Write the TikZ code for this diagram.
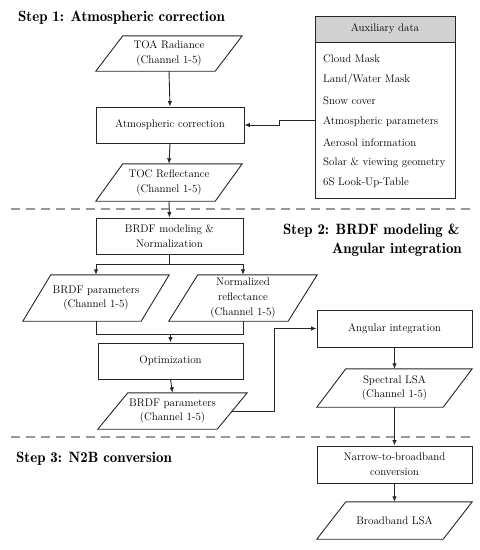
\documentclass[tikz,border=0pt]{standalone}
\usetikzlibrary{arrows.meta,calc}
\newcommand\bodyfnt{\rmfamily\fontsize{11}{14.6}\selectfont}
\newcommand\titlefnt{\rmfamily\fontsize{14.9}{18}\fontseries{b}\selectfont}
\newcommand\parashape[2]{\draw[boxline] (#1.south west) -- ([xshift=-#2]#1.south east) -- (#1.north east) -- ([xshift=#2]#1.north west) -- cycle;}
\tikzset{
  boxline/.style={line width=0.9pt, draw=black!85},
  rbox/.style={boxline, draw, align=center, font=\bodyfnt, inner sep=1pt},
  pbox/.style={align=center, font=\bodyfnt, inner sep=0pt},
  conn/.style={line width=0.9pt, draw=black!85},
  arr/.style={conn, -{Latex[length=5.5pt,width=4.5pt]}},
  dashline/.style={line width=1.1pt, draw=black!40, dash pattern=on 9pt off 6pt},
  ttl/.style={font=\titlefnt, anchor=base west, inner sep=0pt},
  item/.style={font=\bodyfnt, anchor=west, inner sep=2pt}
}
\begin{document}
\begin{tikzpicture}[x=1pt,y=-1pt]
\useasboundingbox (0,0) rectangle (480,550);

% titles
\node[ttl] (t1) at (18,21) {Step 1: Atmospheric correction};
\node[ttl] (t2a) at (283,234) {Step 2: BRDF modeling \&};
\node[ttl] (t2b) at (332,253) {Angular integration};
\node[ttl] (t3) at (16,462) {Step 3: N2B conversion};

% dashed separators
\coordinate (d1a) at (11,209); \coordinate (d1b) at (470,209);
\coordinate (d2a) at (11,437); \coordinate (d2b) at (470,437);
\draw[dashline] (d1a) -- (d1b);
\draw[dashline] (d2a) -- (d2b);

% main column
\node[pbox, minimum width=146pt, minimum height=35pt] (toa) at (169,53.5) {TOA Radiance\\(Channel 1-5)};
\parashape{toa}{27pt}
\node[rbox, minimum width=148pt, minimum height=36pt] (atm) at (170,125) {Atmospheric correction};
\node[pbox, minimum width=146pt, minimum height=37pt] (toc) at (169,182.5) {TOC Reflectance\\(Channel 1-5)};
\parashape{toc}{27pt}
\node[rbox, minimum width=147pt, minimum height=36pt] (brdf) at (169.5,236) {BRDF modeling \&\\Normalization};
\node[pbox, minimum width=146pt, minimum height=46pt] (bp) at (96,298) {BRDF parameters\\(Channel 1-5)};
\parashape{bp}{28pt}
\node[pbox, minimum width=148pt, minimum height=46pt] (nr) at (243,298) {Normalized\\reflectance\\(Channel 1-5)};
\parashape{nr}{29pt}
\node[rbox, minimum width=145pt, minimum height=36pt] (opt) at (170.5,361) {Optimization};
\node[pbox, minimum width=149pt, minimum height=36pt] (bp2) at (172.5,411) {BRDF parameters\\(Channel 1-5)};
\parashape{bp2}{30pt}

% right column
\node[rbox, minimum width=155pt, minimum height=37pt] (ang) at (394.5,328.5) {Angular integration};
\node[pbox, minimum width=155pt, minimum height=38pt] (slsa) at (394.5,388) {Spectral LSA\\(Channel 1-5)};
\parashape{slsa}{29pt}
\node[rbox, minimum width=155pt, minimum height=37pt] (n2b) at (394.5,464.5) {Narrow-to-broadband\\conversion};
\node[pbox, minimum width=155pt, minimum height=37pt] (blsa) at (394.5,520.5) {Broadband LSA};
\parashape{blsa}{29pt}

% auxiliary data box
\node[rbox, fill=black!18, minimum width=140pt, minimum height=26pt] (auxh) at (385,29) {Auxiliary data};
\node[rbox, minimum width=140pt, minimum height=156pt] (auxb) at (385,120) {};
\node[item] (a1) at (321,59) {Cloud Mask};
\node[item] (a2) at (321,80) {Land/Water Mask};
\node[item] (a3) at (321,101) {Snow cover};
\node[item] (a4) at (321,122) {Atmospheric parameters};
\node[item] (a5) at (321,143) {Aerosol information};
\node[item] (a6) at (321,163) {Solar \& viewing geometry};
\node[item] (a7) at (321,183) {6S Look-Up-Table};

% connectors
\draw[arr] (toa.south) -- (atm.north);
\draw[arr] (atm.south) -- (toc.north);
\draw[arr] (auxb.west) -- ++(-35,0) |- (atm.east);
\draw[arr] (toc.south) -- (brdf.north);
\coordinate (sj) at ([yshift=-10pt]brdf.south);
\draw[conn] (brdf.south) -- (sj);
\draw[arr] (sj) -| (bp.north);
\draw[arr] (sj) -| (nr.north);
\coordinate (mj) at ([yshift=-13pt]bp.south);
\draw[conn] (bp.south) -- (mj) -| (nr.south);
\draw[arr] (mj -| opt.north) -- (opt.north);
\draw[arr] (opt.south) -- (bp2.north);
\coordinate (b2e) at ([xshift=-15pt]bp2.east);
\draw[arr] (b2e) -- ++(42,0) |- (ang.west);
\draw[arr] (ang.south) -- (slsa.north);
\draw[arr] (slsa.south) -- (n2b.north);
\draw[arr] (n2b.south) -- (blsa.north);
\end{tikzpicture}
\end{document}
